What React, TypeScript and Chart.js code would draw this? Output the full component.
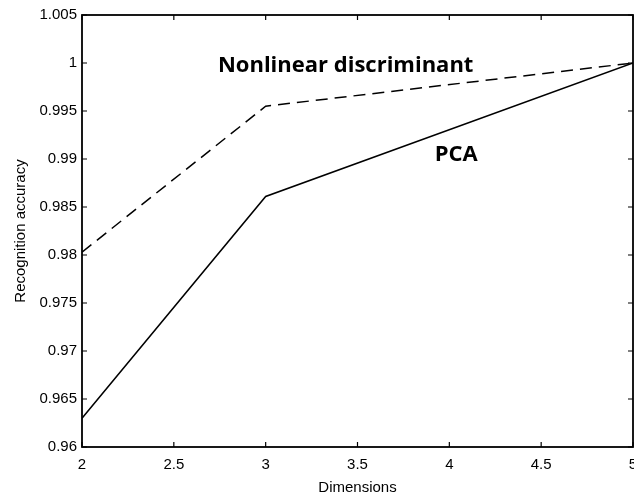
import { useEffect, useRef } from "react";
import { Chart, registerables } from "chart.js";

Chart.register(...registerables);

// Number of retained dimensions
const dimensions = [2, 3, 5];
// Recognition accuracy per method
const nonlinearAccuracy = [0.9803, 0.9955, 1.0];
const pcaAccuracy = [0.963, 0.9861, 1.0];

const xTickValues = [2, 2.5, 3, 3.5, 4, 4.5, 5];
const xTickLabels = ["2", "2.5", "3", "3.5", "4", "4.5", "5"];
const yTickValues = [0.96, 0.965, 0.97, 0.975, 0.98, 0.985, 0.99, 0.995, 1.0, 1.005];
const yTickLabels = ["0.96", "0.965", "0.97", "0.975", "0.98", "0.985", "0.99", "0.995", "1", "1.005"];

// Inline curve labels, anchored in data coordinates (left edge, vertical middle)
const curveLabels = [
  { text: "Nonlinear discriminant", x: 2.74, y: 0.99976, size: 22 },
  { text: "PCA", x: 3.92, y: 0.99042, size: 22 },
];

const axisFont = '"Liberation Sans", Arial, sans-serif';
const labelFont = '"Open Sans", "DejaVu Sans", sans-serif';

const framePlugin = {
  id: "frameAndInwardTicks",
  afterDatasetsDraw(chart: any) {
    const { ctx, chartArea, scales } = chart;
    const { left, right, top, bottom } = chartArea;
    const tickLen = 5;
    ctx.save();
    ctx.strokeStyle = "#000";
    ctx.lineWidth = 1.8;
    ctx.strokeRect(left, top, right - left, bottom - top);
    ctx.lineWidth = 1.2;
    ctx.beginPath();
    xTickValues.forEach((v) => {
      const px = scales.x.getPixelForValue(v);
      ctx.moveTo(px, bottom);
      ctx.lineTo(px, bottom - tickLen);
      ctx.moveTo(px, top);
      ctx.lineTo(px, top + tickLen);
    });
    yTickValues.forEach((v) => {
      const py = scales.y.getPixelForValue(v);
      ctx.moveTo(left, py);
      ctx.lineTo(left + tickLen, py);
      ctx.moveTo(right, py);
      ctx.lineTo(right - tickLen, py);
    });
    ctx.stroke();

    ctx.fillStyle = "#000";
    ctx.textAlign = "left";
    ctx.textBaseline = "middle";
    curveLabels.forEach((l) => {
      ctx.font = `bold ${l.size}px ${labelFont}`;
      ctx.fillText(l.text, scales.x.getPixelForValue(l.x), scales.y.getPixelForValue(l.y));
    });
    ctx.restore();
  },
};

export default function App() {
  const canvasRef = useRef<HTMLCanvasElement | null>(null);

  useEffect(() => {
    document.body.style.margin = "0";
    const canvas = canvasRef.current;
    if (!canvas) return;
    const chart = new Chart(canvas, {
      type: "line",
      data: {
        datasets: [
          {
            label: "Nonlinear discriminant",
            data: dimensions.map((d, i) => ({ x: d, y: nonlinearAccuracy[i] })),
            borderColor: "#000",
            borderWidth: 1.5,
            borderDash: [12, 7],
            pointRadius: 0,
            tension: 0,
            fill: false,
          },
          {
            label: "PCA",
            data: dimensions.map((d, i) => ({ x: d, y: pcaAccuracy[i] })),
            borderColor: "#000",
            borderWidth: 1.5,
            pointRadius: 0,
            tension: 0,
            fill: false,
          },
        ],
      },
      options: {
        animation: false,
        responsive: false,
        devicePixelRatio: 1,
        layout: { padding: { top: 15, right: 1, left: 0, bottom: 0 } },
        plugins: {
          legend: { display: false },
          tooltip: { enabled: false },
        },
        scales: {
          x: {
            type: "linear",
            min: 2,
            max: 5,
            afterBuildTicks: (scale: any) => {
              scale.ticks = xTickValues.map((v) => ({ value: v }));
            },
            afterFit: (scale: any) => {
              scale.height = 48;
              scale.paddingLeft = 0;
              scale.paddingRight = 0;
            },
            grid: { display: false, drawTicks: false },
            border: { display: false },
            ticks: {
              color: "#000",
              padding: 9,
              maxRotation: 0,
              autoSkip: false,
              font: { family: axisFont, size: 15 },
              callback: (_v: any, i: number) => xTickLabels[i],
            },
            title: {
              display: true,
              text: "Dimensions",
              color: "#000",
              font: { family: axisFont, size: 15, lineHeight: 1 },
              padding: { top: 0, bottom: 0 },
            },
          },
          y: {
            type: "linear",
            min: 0.96,
            max: 1.005,
            afterBuildTicks: (scale: any) => {
              scale.ticks = yTickValues.map((v) => ({ value: v }));
            },
            afterFit: (scale: any) => {
              scale.width = 82;
            },
            grid: { display: false, drawTicks: false },
            border: { display: false },
            ticks: {
              color: "#000",
              padding: 5,
              autoSkip: false,
              font: { family: axisFont, size: 15 },
              callback: (_v: any, i: number) => yTickLabels[i],
            },
            title: {
              display: true,
              text: "Recognition accuracy",
              color: "#000",
              font: { family: axisFont, size: 15, lineHeight: 1.2 },
              padding: { top: 12, bottom: 0 },
            },
          },
        },
      },
      plugins: [framePlugin],
    });
    return () => chart.destroy();
  }, []);

  return (
    <div style={{ position: "absolute", left: 0, top: 0, width: 634, height: 495, background: "#fff" }}>
      <canvas ref={canvasRef} width={634} height={495} />
    </div>
  );
}
